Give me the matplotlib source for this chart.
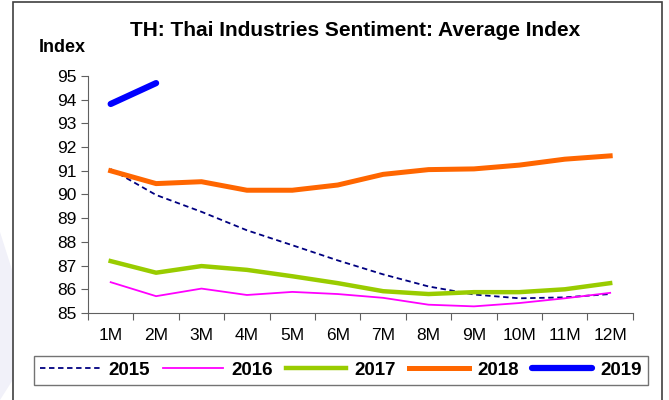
import matplotlib
matplotlib.use('Agg')
import matplotlib.pyplot as plt
import numpy as np
from matplotlib.patches import Rectangle, Polygon

plt.rcParams['font.family'] = ['Liberation Sans', 'DejaVu Sans']

months = ['1M', '2M', '3M', '4M', '5M', '6M', '7M', '8M', '9M', '10M', '11M', '12M']
idx_2015 = [91.07, 89.98, 89.27, 88.49, 87.86, 87.22, 86.63, 86.12, 85.78, 85.62, 85.66, 85.80]
idx_2016 = [86.30, 85.71, 86.03, 85.76, 85.89, 85.80, 85.64, 85.35, 85.28, 85.42, 85.62, 85.85]
idx_2017 = [87.19, 86.70, 86.98, 86.82, 86.55, 86.26, 85.92, 85.80, 85.88, 85.88, 86.00, 86.26]
idx_2018 = [91.00, 90.46, 90.54, 90.18, 90.18, 90.40, 90.85, 91.05, 91.08, 91.24, 91.49, 91.63]
idx_2019 = [93.82, 94.70]

fig = plt.figure(figsize=(6.69, 4.0), dpi=100)

# faint watermark shape at the left edge
fig.patches.append(Polygon([(0, 0.0), (0, 0.42), (0.019, 0.32), (0.019, 0.05)], closed=True,
                           transform=fig.transFigure, facecolor='#F1F1F9', edgecolor='none'))

ax = fig.add_axes([0.1315, 0.2175, 0.8145, 0.5925])

x = np.arange(len(months))
ax.plot(x, idx_2015, color='#000080', lw=1.3, ls=(0, (3, 2)), label='2015')
ax.plot(x, idx_2016, color='#FF00FF', lw=1.3, label='2016')
ax.plot(x, idx_2017, color='#99CC00', lw=3.2, label='2017')
ax.plot(x, idx_2018, color='#FF6600', lw=3.6, label='2018')
ax.plot(x[:len(idx_2019)], idx_2019, color='#0000FF', lw=4.5, solid_capstyle='round', label='2019')

ax.set_xlim(-0.5, 11.5)
ax.set_ylim(85, 95)
ax.set_yticks(range(85, 96))
ax.set_xticks(np.arange(-0.5, 12, 1))
ax.set_xticklabels([])
ax.set_xticks(x, minor=True)
ax.set_xticklabels(months, minor=True, fontsize=12.5)
ax.tick_params(axis='x', which='minor', length=0, pad=11)
ax.tick_params(axis='x', which='major', length=5, direction='out', width=0.8, color='#606060')
ax.tick_params(axis='y', length=5, direction='out', labelsize=12.5, width=0.8, color='#606060')
for s in ['top', 'right']:
    ax.spines[s].set_visible(False)
ax.spines['bottom'].set_color('#606060')
ax.spines['left'].set_color('#606060')

fig.text(0.531, 0.923, 'TH: Thai Industries Sentiment: Average Index', ha='center', va='center',
         fontsize=15, fontweight='bold')
fig.text(0.058, 0.88, 'Index', ha='left', va='center', fontsize=13, fontweight='bold')

leg = fig.legend(loc='center', bbox_to_anchor=(0.51, 0.074), ncol=5, frameon=True, fancybox=False,
                 handlelength=3.2, handletextpad=0.45, columnspacing=0.7, borderpad=0.3,
                 borderaxespad=0, prop={'weight': 'bold', 'size': 13.5})
leg.get_frame().set_edgecolor('#505050')
leg.get_frame().set_linewidth(1.0)

fig.patches.append(Rectangle((0.019, -0.02), 0.971, 1.015, transform=fig.transFigure,
                             fill=False, edgecolor='#404040', lw=1.2))

fig.savefig('out.png', dpi=100)
